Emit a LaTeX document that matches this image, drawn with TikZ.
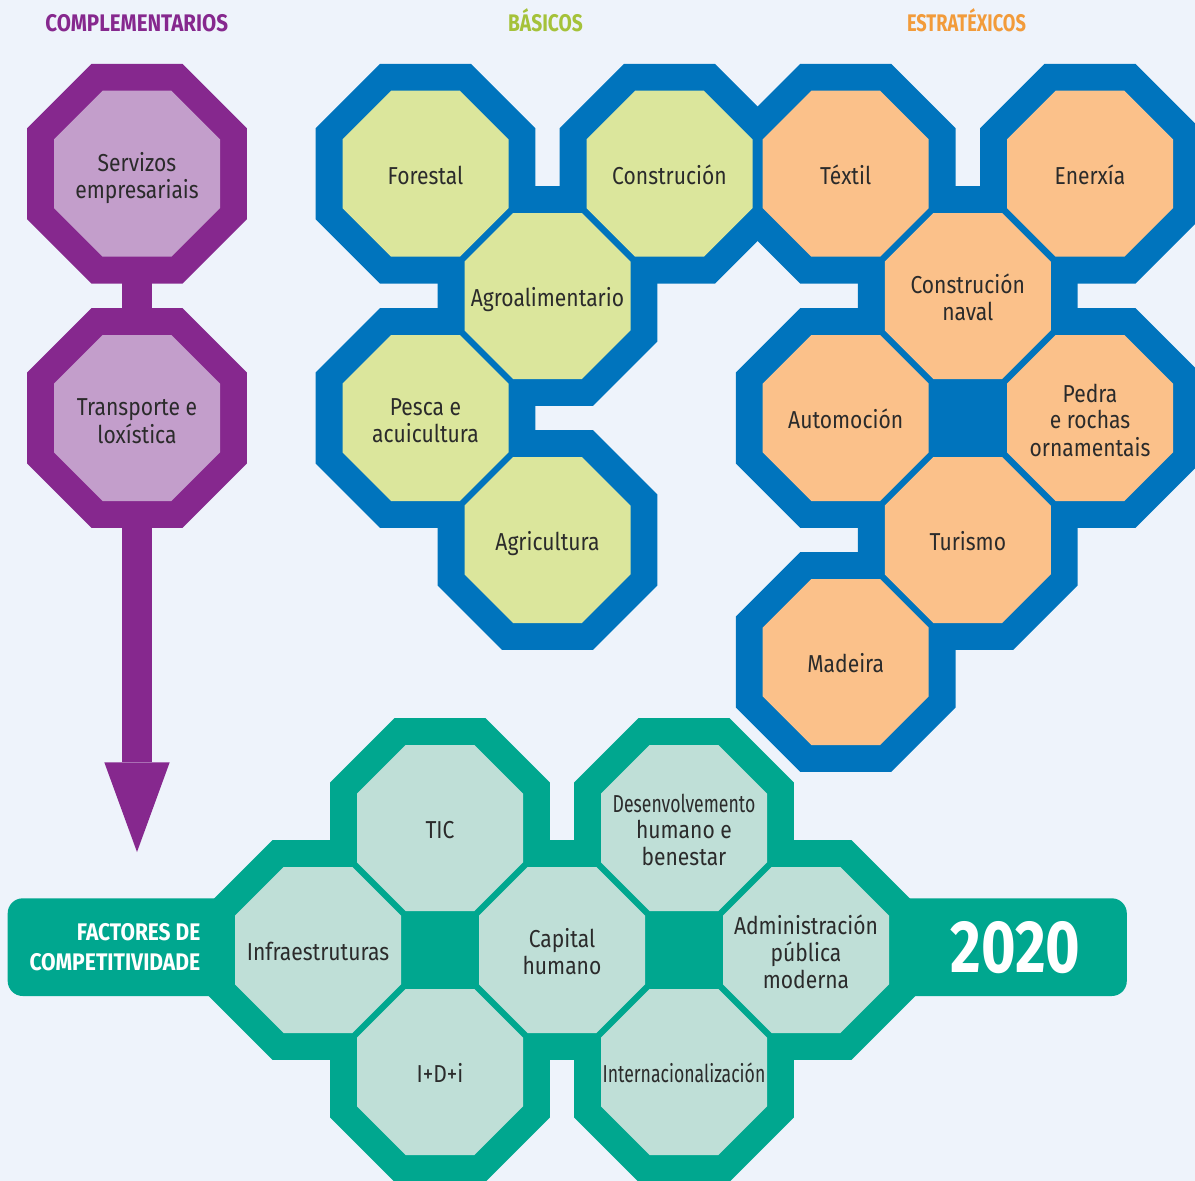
\documentclass[tikz,border=0pt]{standalone}
\usepackage{fontspec}
\setmainfont{Fira Sans}
\newfontfamily\lblf[FakeStretch=0.86]{Fira Sans}
\newfontfamily\lblcf[FakeStretch=0.72]{Fira Sans}
\newfontfamily\ttlf[FakeStretch=0.8]{Fira Sans}
\usetikzlibrary{calc}
\definecolor{bgc}{HTML}{EEF3FB}
\definecolor{purp}{HTML}{86288E}
\definecolor{lilac}{HTML}{C39ECB}
\definecolor{blu}{HTML}{0074BD}
\definecolor{lgreen}{HTML}{DBE69C}
\definecolor{lorange}{HTML}{FBC18A}
\definecolor{tealc}{HTML}{00A78F}
\definecolor{lteal}{HTML}{BFDFD7}
\definecolor{tgreen}{HTML}{A5C23A}
\definecolor{torange}{HTML}{F29B3A}
\definecolor{txt}{HTML}{2B2B2B}
\newcommand\octo[3]{\fill[#3] (#1) +(22.5:#2) -- +(67.5:#2) -- +(112.5:#2) -- +(157.5:#2) -- +(202.5:#2) -- +(247.5:#2) -- +(292.5:#2) -- +(337.5:#2) -- cycle;}
\newcommand\lines[1]{\begin{tabular}[t]{@{}c@{}}#1\end{tabular}}
\begin{document}
\begin{tikzpicture}[x=1pt,y=-1pt,
  lbl/.style={font=\lblf\fontsize{24.5}{26.8}\selectfont, text=txt, inner sep=0pt, anchor=base},
  lone/.style={yshift=-10.5pt},
  ltwo/.style={yshift=2.5pt},
  lthree/.style={yshift=15.9pt},
  ttl/.style={font=\ttlf\bfseries\fontsize{24}{29.3}\selectfont, inner sep=0pt, anchor=base}]
\fill[bgc] (0,0) rectangle (1195,1181);
\useasboundingbox (0,0) rectangle (1195,1181);
\def\Ro{118.9}
\def\Ri{89.84}
% centres
\coordinate (servC) at (137,173.7);
\coordinate (transC) at (137,418);
\coordinate (abase) at (137,762.3);
\coordinate (tip) at (137,852);
\coordinate (forC) at (425.5,173.7);
\coordinate (conC) at (669.5,173.7);
\coordinate (agroC) at (547.5,296);
\coordinate (pescC) at (425.5,418);
\coordinate (agriC) at (547.5,540);
\coordinate (texC) at (845.7,173.7);
\coordinate (eneC) at (1090,173.7);
\coordinate (navC) at (967.8,296);
\coordinate (autC) at (845.7,418);
\coordinate (pedC) at (1090,418);
\coordinate (turC) at (967.8,540);
\coordinate (madC) at (845.7,662);
\coordinate (ticC) at (440,828);
\coordinate (desC) at (684,828);
\coordinate (infC) at (318,950);
\coordinate (capC) at (562,950);
\coordinate (admC) at (806,950);
\coordinate (idiC) at (440,1072);
\coordinate (intC) at (684,1072);
% titles
\node[ttl, text=purp] (tcomp) at (136.7,31.7) {\scalebox{1.07}[1]{COMPLEMENTARIOS}};
\node[ttl, text=tgreen] (tbas) at (545.5,31.5) {BÁSICOS};
\node[ttl, text=torange] (test) at (966.5,31.5) {\scalebox{0.95}[1]{ESTRATÉXICOS}};
% purple connectors
\draw[purp, line width=29.4pt] (servC) -- (transC);
\draw[purp, line width=29.4pt] (transC) -- (abase);
\fill[purp] ($(abase)+(-32.7,0)$) -- ($(abase)+(32.7,0)$) -- (tip) -- cycle;
% outer octagons
\foreach \c in {servC,transC}{\octo{\c}{\Ro}{purp}}
\foreach \c in {forC,conC,agroC,pescC,agriC,texC,eneC,navC,autC,pedC,turC,madC}{\octo{\c}{\Ro}{blu}}
\fill[blu] ($(autC)+(77,-45)$) rectangle ($(autC)+(167,45)$);
\fill[tealc, rounded corners=15pt] (7.7,898.3) rectangle (1126.8,996);
\foreach \c in {ticC,desC,infC,capC,admC,idiC,intC}{\octo{\c}{\Ro}{tealc}}
\fill[tealc] (395,905) rectangle (485,995);
\fill[tealc] (639,905) rectangle (729,995);
% inner octagons
\foreach \c in {servC,transC}{\octo{\c}{\Ri}{lilac}}
\foreach \c in {forC,conC,agroC,pescC,agriC}{\octo{\c}{\Ri}{lgreen}}
\foreach \c in {texC,eneC,navC,autC,pedC,turC,madC}{\octo{\c}{\Ri}{lorange}}
\foreach \c in {ticC,desC,infC,capC,admC,idiC,intC}{\octo{\c}{\Ri}{lteal}}
% labels
\node[lbl,ltwo] (servizos) at (servC) {\lines{Servizos\\empresariais}};
\node[lbl,ltwo] (transporte) at (transC) {\lines{Transporte e\\loxística}};
\node[lbl,lone] (forestal) at (forC) {Forestal};
\node[lbl,lone] (construcion) at (conC) {Construción};
\node[lbl,lone] (agro) at (agroC) {Agroalimentario};
\node[lbl,ltwo] (pesca) at (pescC) {\lines{Pesca e\\acuicultura}};
\node[lbl,lone] (agricultura) at (agriC) {Agricultura};
\node[lbl,lone] (textil) at (texC) {Téxtil};
\node[lbl,lone] (enerxia) at (eneC) {Enerxía};
\node[lbl,ltwo] (naval) at (navC) {\lines{Construción\\naval}};
\node[lbl,lone] (automocion) at (autC) {Automoción};
\node[lbl,lthree] (pedra) at (pedC) {\lines{Pedra\\e rochas\\ornamentais}};
\node[lbl,lone] (turismo) at (turC) {Turismo};
\node[lbl,lone] (madeira) at (madC) {Madeira};
\node[lbl,lone] (tic) at (ticC) {TIC};
\node[lbl,lthree] (desenv) at (desC) {\lines{{\lblcf Desenvolvemento}\\humano e\\benestar}};
\node[lbl,lone] (infra) at (infC) {Infraestruturas};
\node[lbl,ltwo] (capital) at (capC) {\lines{Capital\\humano}};
\node[lbl,lthree] (admin) at (admC) {\lines{Administración\\pública\\moderna}};
\node[lbl,lone] (idi) at (idiC) {I+D+i};
\node[lbl,lone] (internac) at (intC) {{\lblcf Internacionalización}};
\node[ttl, text=white, anchor=base east] (factores) at (200.5,940.7) {\begin{tabular}[t]{@{}r@{}}\scalebox{1.09}[1]{FACTORES DE}\\\scalebox{1.1}[1]{COMPETITIVIDADE}\end{tabular}};
\node[inner sep=0pt, anchor=base, text=white, font=\ttlf\bfseries\fontsize{74}{80}\selectfont] (ano) at (1015.7,972.7) {2020};
\end{tikzpicture}
\end{document}
